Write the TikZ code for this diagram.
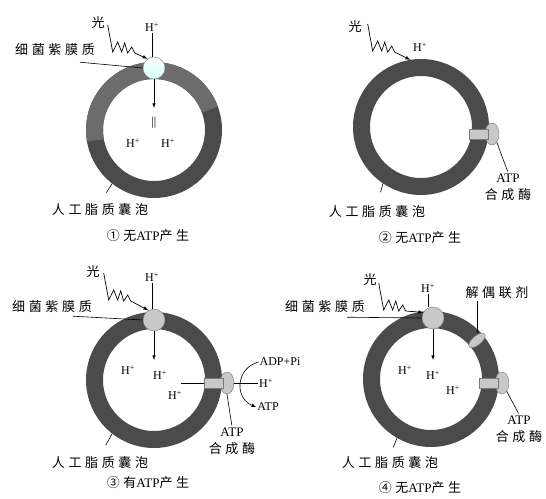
\documentclass[tikz,border=0pt]{standalone}
\usepackage{fontspec}
\setmainfont{Liberation Serif}
\newfontfamily\cjk[LetterSpace=28]{Noto Sans CJK SC}
\usepackage{tikz}
\usetikzlibrary{positioning, shapes.geometric}
\usetikzlibrary{calc,arrows}

\definecolor{ringgray}{HTML}{4B4B4B}
\definecolor{ringlight}{HTML}{6C6C6C}
\definecolor{pumpgray}{HTML}{C8C8C8}
\definecolor{edgegray}{HTML}{7A7A7A}

\begin{document}
\begin{tikzpicture}
	[   x=1pt,y=1pt,
	    vesicle/.style={circle,draw=ringgray,line width=17pt,minimum size=119pt,inner sep=0pt},
	    pump/.style={circle,draw=edgegray,fill=#1,minimum size=22pt,inner sep=0pt},
	    bulb/.style={ellipse,draw=edgegray,fill=pumpgray,minimum width=14pt,minimum height=22pt,inner sep=0pt},
	    stalk/.style={draw=edgegray,fill=pumpgray,minimum width=19pt,minimum height=10pt,inner sep=0pt},
	    tag/.style={font=\cjk\fontsize{13}{15}\selectfont,inner sep=1pt},
	    ion/.style={font=\fontsize{12}{14}\selectfont,inner sep=1pt},
	    duo/.style={font=\fontsize{13}{17}\selectfont,align=center,inner sep=1pt},
	]
	\tikzset{normal arrow/.style={draw,line width=0.6pt,-latex}}
	\tikzset{leader/.style={draw,line width=0.6pt}}
	\tikzset{light ray/.style={draw,line width=0.7pt,-latex}}
	\useasboundingbox (0,0) rectangle (546,498);
	
	% (1) pump alone: light drives H+ inward
	\node[vesicle] (v1) at (154,368) {};
	\draw[line width=17pt,ringlight] ($(v1)+(20:59.5)$) arc[start angle=20,end angle=190,radius=59.5];
	\node[pump=white,top color=white,bottom color=cyan!18] (p1) at (154,430) {};
	\node[tag] (l1) at (98,475) {光};
	\node[ion] (h1) at (152,471) {H\textsuperscript{+}};
	\node[tag] (m1) at (55,448) {细菌紫膜质};
	\path[light ray] (l1.east) ++(2,-2) -- ++(5,-27) -- ++(5,10) -- ++(4,-10) -- ++(3,9) -- ++(3,-10) -- ++(4,6) -- ++(3,-6) -- (p1.125);
	\path[leader] (h1.south) -- (h1.south |- p1.north);
	\path[leader] (p1.west) -- ($(m1.south)+(25,-5)$);
	\coordinate (e1) at (154,390);
	\path[normal arrow] (p1.south) -- (e1);
	\node[ion] (q1) at (154,375) {||};
	\node[ion] (i1) at (133,355) {H\textsuperscript{+}};
	\node[ion] (j1) at (168,355) {H\textsuperscript{+}};
	
	% (2) synthase alone
	\node[vesicle] (v2) at (421,371) {};
	\node[bulb] (b2) at (492,364) {};
	\node[stalk,left=-4pt of b2] (s2) {};
	\node[tag] (l2) at (355,471) {光};
	\node[ion] (h2) at (420,451) {H\textsuperscript{+}};
	\path[light ray] (l2.east) ++(5,3) -- ++(5,-27) -- ++(5,10) -- ++(4,-10) -- ++(3,9) -- ++(3,-10) -- ++(4,6) -- ++(3,-6) -- (v2.99);
	\node[duo] (a2) at (508,311) {ATP\\{\cjk 合成酶}};
	\path[leader,shorten >=1pt] (b2.-60) -- (a2.north);
	
	% (3) pump + synthase
	\node[vesicle] (v3) at (154,118) {};
	\node[bulb] (b3) at (227,115) {};
	\node[stalk,left=-4pt of b3] (s3) {};
	\node[pump=pumpgray] (p3) at (154,178) {};
	\node[tag] (l3) at (93,226) {光};
	\node[ion] (h3) at (152,221) {H\textsuperscript{+}};
	\node[tag] (m3) at (52,191) {细菌紫膜质};
	\path[light ray] (l3.east) ++(3,-1) -- ++(5,-27) -- ++(5,10) -- ++(4,-10) -- ++(3,9) -- ++(3,-10) -- ++(4,6) -- ++(3,-6) -- (p3.120);
	\path[leader] (h3.south) -- (h3.south |- p3.north);
	\path[leader] (p3.west) -- ($(m3.south)+(21,-2)$);
	\coordinate (e3) at (154,138);
	\path[normal arrow] (p3.south) -- (e3);
	\node[ion] (i3) at (128,128) {H\textsuperscript{+}};
	\node[ion] (j3) at (160,123) {H\textsuperscript{+}};
	\node[ion] (k3) at (175,103) {H\textsuperscript{+}};
	\coordinate (f3) at (181,115);
	\path[leader] (f3) -- (s3.west);
	\node[ion] (o3) at (266,115) {H\textsuperscript{+}};
	\path[leader] (b3.east) -- (o3.west);
	\node[ion] (adp3) at (280,136) {ADP+Pi};
	\node[ion] (atp3) at (268,91) {ATP};
	\path[normal arrow] (adp3.west) .. controls (236,130) and (234,100) .. (atp3.west);
	\node[duo] (a3) at (232,57) {ATP\\{\cjk 合成酶}};
	\path[leader,shorten >=1pt] (b3.south) -- (a3.north);
	
	% (4) pump + synthase + uncoupler
	\node[vesicle] (v4) at (431,119) {};
	\node[bulb] (b4) at (502,115) {};
	\node[stalk,left=-4pt of b4] (s4) {};
	\node[ellipse,draw=edgegray,fill=pumpgray,minimum width=20pt,minimum height=9pt,inner sep=0pt,rotate=40] (u4) at ($(v4)+(40:60)$) {};
	\node[pump=pumpgray] (p4) at (433,180) {};
	\node[tag] (l4) at (370,218) {光};
	\node[ion] (h4) at (428,210) {H\textsuperscript{+}};
	\node[tag] (m4) at (325,191) {细菌紫膜质};
	\node[tag] (d4) at (497,205) {解偶联剂};
	\path[light ray] (l4.east) ++(1,-3) -- ++(5,-27) -- ++(5,10) -- ++(4,-10) -- ++(3,9) -- ++(3,-10) -- ++(4,6) -- ++(3,-6) -- (p4.150);
	\path[leader] (h4.south) -- (h4.south |- p4.north);
	\path[leader] (p4.west) -- ($(m4.south)+(22,-3)$);
	\path[leader,shorten <=7pt,shorten >=1pt] (u4.center) -- (u4.center |- d4.south);
	\coordinate (e4) at (433,138);
	\path[normal arrow] (p4.south) -- (e4);
	\node[ion] (i4) at (405,128) {H\textsuperscript{+}};
	\node[ion] (j4) at (433,123) {H\textsuperscript{+}};
	\node[ion] (k4) at (453,108) {H\textsuperscript{+}};
	\node[duo] (a4) at (519,69) {ATP\\{\cjk 合成酶}};
	\path[leader,shorten >=1pt] (b4.-60) -- (a4.north);
	
	% vesicle names and captions
	\foreach \v/\x/\y/\a/\s in {1/100/288/232/12, 2/377/286/236/13, 3/100/35/232/12, 4/390/35/240/9}
	{
		\node[tag] (n\v) at (\x,\y) {人工脂质囊泡};
		\path[leader,shorten <=\s pt] (n\v.north) -- (v\v.\a);
	}
	\node[duo] (c1) at (148,262) {{\cjk ①无}ATP{\cjk 产生}};
	\node[duo] (c2) at (420,260) {{\cjk ②无}ATP{\cjk 产生}};
	\node[duo] (c3) at (148,15) {{\cjk ③有}ATP{\cjk 产生}};
	\node[duo] (c4) at (420,10) {{\cjk ④无}ATP{\cjk 产生}};
\end{tikzpicture}
\end{document}
